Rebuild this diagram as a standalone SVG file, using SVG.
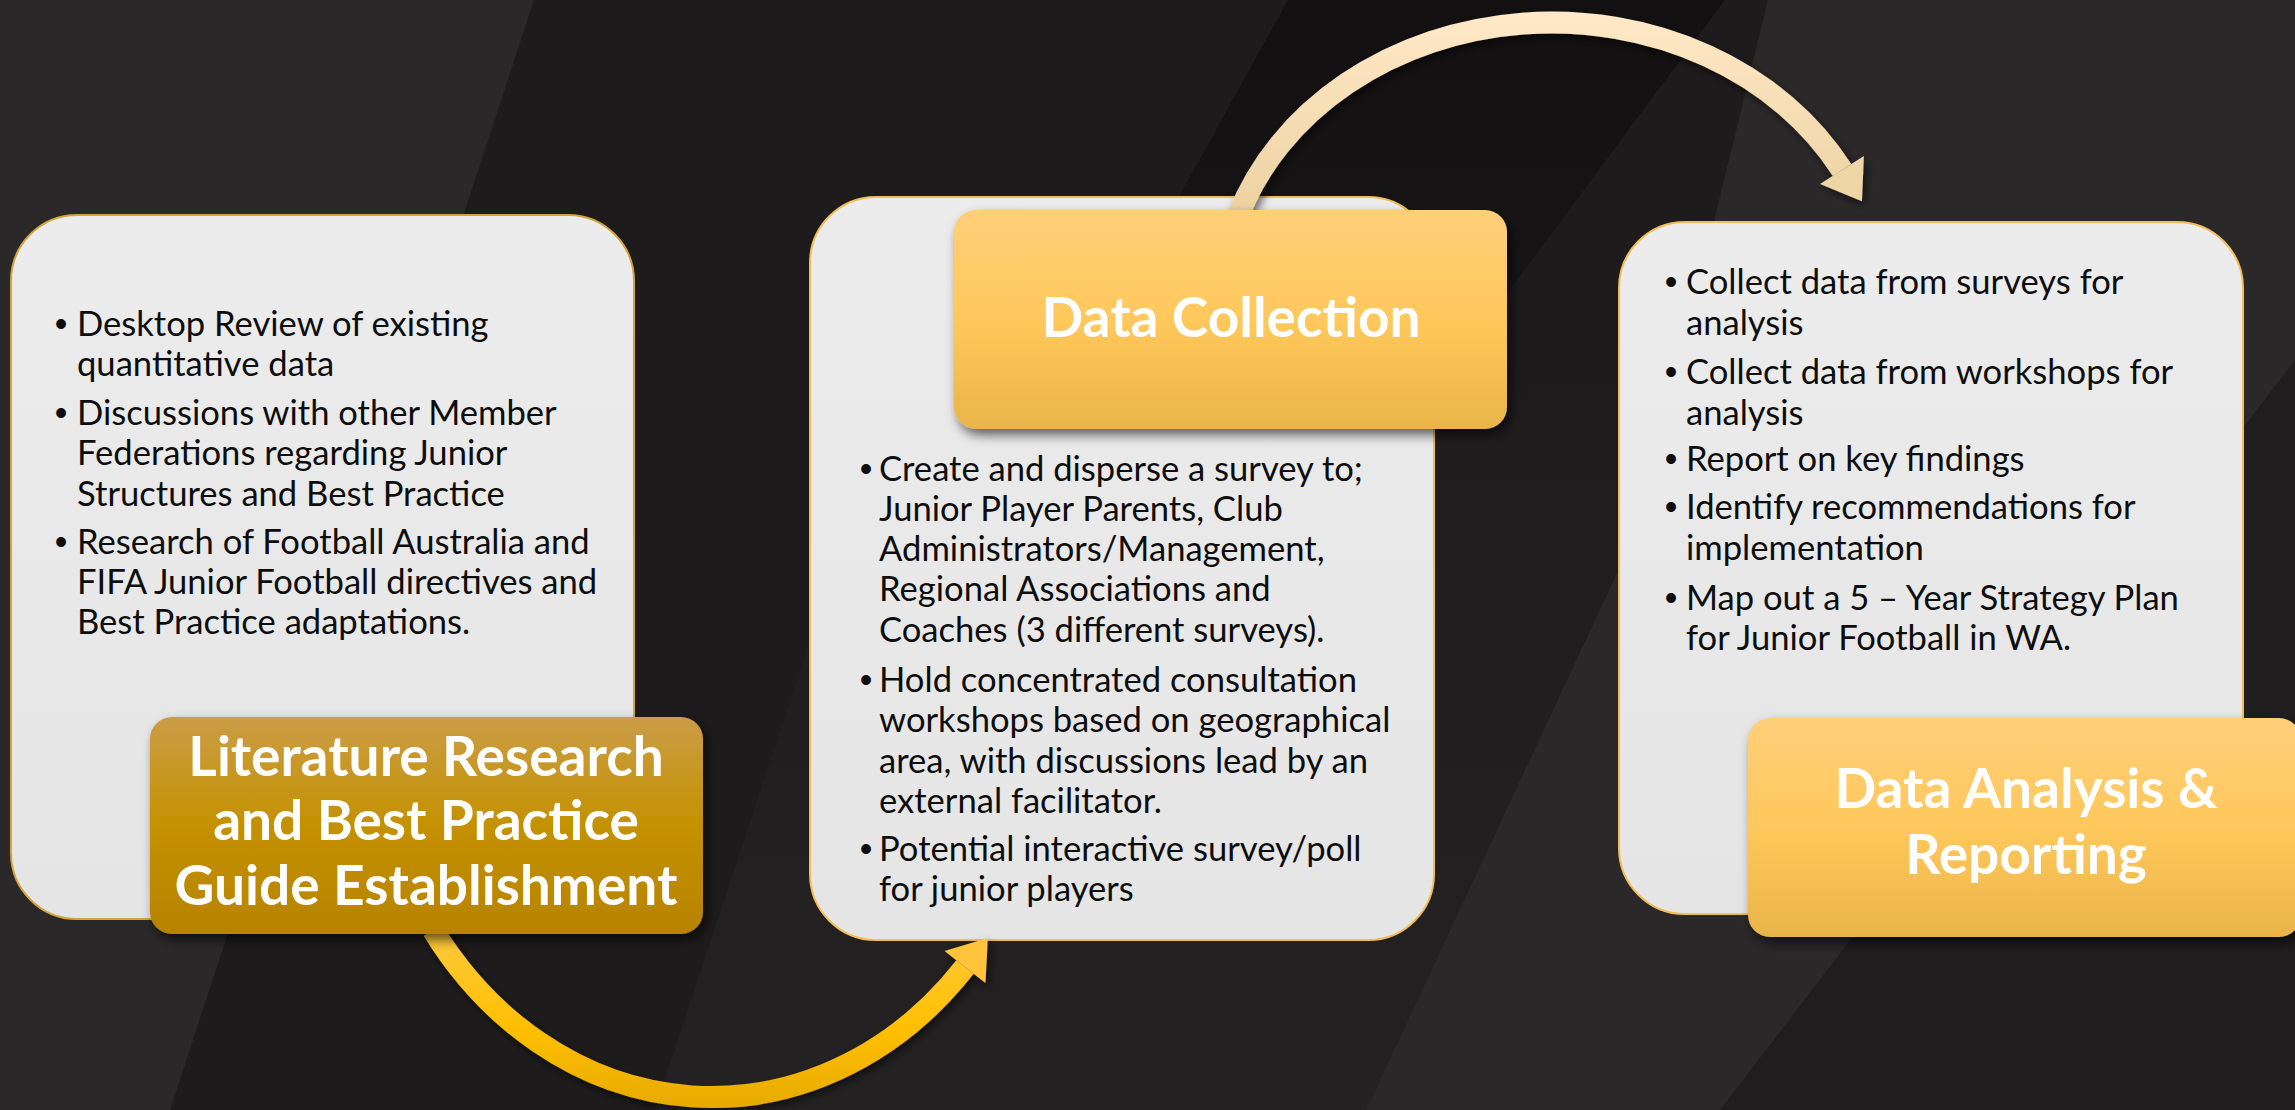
<svg xmlns="http://www.w3.org/2000/svg" width="2295" height="1110" viewBox="0 0 2295 1110">
  <defs>
    <style>
      .card { stroke-width: 2; }
      .body { font-family: Lato, "Open Sans", "Liberation Sans", sans-serif; font-size: 34.6px; fill: #0d0d0d; }
      .bullet { font-family: "Liberation Sans", sans-serif; font-size: 36px; fill: #0d0d0d; text-anchor: middle; }
      .title { font-family: Lato, "Open Sans", "Liberation Sans", sans-serif; font-weight: 700; font-size: 55px; fill: #ffffff; text-anchor: middle; }
    </style>
    <linearGradient id="cardFill" x1="0" y1="0" x2="0" y2="1">
      <stop offset="0" stop-color="#ececec"/>
      <stop offset="1" stop-color="#e5e5e5"/>
    </linearGradient>
    <linearGradient id="goldDark" x1="0" y1="0" x2="0" y2="1">
      <stop offset="0" stop-color="#cb9d47"/>
      <stop offset="0.5" stop-color="#c49100"/>
      <stop offset="1" stop-color="#b78300"/>
    </linearGradient>
    <linearGradient id="goldLight" x1="0" y1="0" x2="0" y2="1">
      <stop offset="0" stop-color="#ffcf79"/>
      <stop offset="0.5" stop-color="#ffc85c"/>
      <stop offset="1" stop-color="#e9b449"/>
    </linearGradient>
    <linearGradient id="arrowGold" gradientUnits="userSpaceOnUse" x1="0" y1="930" x2="0" y2="1110">
      <stop offset="0" stop-color="#ffc93f"/>
      <stop offset="0.55" stop-color="#ffbf00"/>
      <stop offset="1" stop-color="#e6aa00"/>
    </linearGradient>
    <linearGradient id="arrowCream" gradientUnits="userSpaceOnUse" x1="0" y1="10" x2="0" y2="215">
      <stop offset="0" stop-color="#ffe9c8"/>
      <stop offset="1" stop-color="#ecd2a1"/>
    </linearGradient>
    <linearGradient id="topFade" x1="0" y1="0" x2="0" y2="1">
      <stop offset="0" stop-color="#121011" stop-opacity="1"/>
      <stop offset="1" stop-color="#121011" stop-opacity="0"/>
    </linearGradient>
    <linearGradient id="lowBand" gradientUnits="userSpaceOnUse" x1="0" y1="300" x2="0" y2="1110">
      <stop offset="0" stop-color="#262324" stop-opacity="0"/>
      <stop offset="1" stop-color="#262324" stop-opacity="0.8"/>
    </linearGradient>
    <filter id="boxShadow" x="-10%" y="-10%" width="125%" height="130%">
      <feDropShadow dx="4" dy="6" stdDeviation="6" flood-color="#000" flood-opacity="0.6"/>
    </filter>
    <filter id="arrowShadow" x="-10%" y="-10%" width="125%" height="130%">
      <feDropShadow dx="3" dy="4" stdDeviation="4" flood-color="#000" flood-opacity="0.55"/>
    </filter>
    <marker id="headGold" markerUnits="userSpaceOnUse" viewBox="-2 -30 42 60" markerWidth="42" markerHeight="60" refX="0" refY="0" orient="auto" overflow="visible">
      <path d="M0,-26 L37,0 L0,26 Z" fill="#ffc43a"/>
    </marker>
    <marker id="headCream" markerUnits="userSpaceOnUse" viewBox="-2 -30 42 60" markerWidth="42" markerHeight="60" refX="0" refY="0" orient="auto" overflow="visible">
      <path d="M0,-26 L37,0 L0,26 Z" fill="#eed5a6"/>
    </marker>
  </defs>

  <!-- backdrop: charcoal with diagonal bands -->
  <g id="backdrop">
    <rect x="0" y="0" width="2295" height="1110" fill="#2b2829"/>
    <polygon points="534,0 1768,0 1640,524 1366,1110 170,1110" fill="#1d1b1c"/>
    <polygon points="1022,0 1768,0 1640,524 1366,1110 655,1110" fill="url(#lowBand)"/>
    <polygon points="1288,0 1725,0 1480,330 1250,700 900,700" fill="url(#topFade)"/>
    <polygon points="2295,360 2295,1110 1720,1110" fill="#1f1d1e"/>
  </g>

  <!-- detail cards -->
  <g id="card-research">
    <rect class="card" x="11" y="215" width="623" height="704" rx="66" fill="url(#cardFill)" stroke="#d3a43a"/>
    <text class="bullet" x="61" y="336">•</text>
    <text class="body" x="77" y="336">Desktop Review of existing</text>
    <text class="body" x="77" y="376">quantitative data</text>
    <text class="bullet" x="61" y="425">•</text>
    <text class="body" x="77" y="425">Discussions with other Member</text>
    <text class="body" x="77" y="465">Federations regarding Junior</text>
    <text class="body" x="77" y="506">Structures and Best Practice</text>
    <text class="bullet" x="61" y="554">•</text>
    <text class="body" x="77" y="554">Research of Football Australia and</text>
    <text class="body" x="77" y="594">FIFA Junior Football directives and</text>
    <text class="body" x="77" y="634">Best Practice adaptations.</text>
  </g>

  <g id="card-collection">
    <rect class="card" x="810" y="197" width="624" height="743" rx="66" fill="url(#cardFill)" stroke="#f2bd55"/>
    <text class="bullet" x="866" y="481">•</text>
    <text class="body" x="879" y="481">Create and disperse a survey to;</text>
    <text class="body" x="879" y="521">Junior Player Parents, Club</text>
    <text class="body" x="879" y="561">Administrators/Management,</text>
    <text class="body" x="879" y="601">Regional Associations and</text>
    <text class="body" x="879" y="642">Coaches (3 different surveys).</text>
    <text class="bullet" x="866" y="692">•</text>
    <text class="body" x="879" y="692">Hold concentrated consultation</text>
    <text class="body" x="879" y="732">workshops based on geographical</text>
    <text class="body" x="879" y="773">area, with discussions lead by an</text>
    <text class="body" x="879" y="813">external facilitator.</text>
    <text class="bullet" x="866" y="861">•</text>
    <text class="body" x="879" y="861">Potential interactive survey/poll</text>
    <text class="body" x="879" y="901">for junior players</text>
  </g>

  <g id="card-analysis">
    <rect class="card" x="1619" y="222" width="624" height="692" rx="66" fill="url(#cardFill)" stroke="#f2bd55"/>
    <text class="bullet" x="1671" y="294">•</text>
    <text class="body" x="1686" y="294">Collect data from surveys for</text>
    <text class="body" x="1686" y="335">analysis</text>
    <text class="bullet" x="1671" y="384">•</text>
    <text class="body" x="1686" y="384">Collect data from workshops for</text>
    <text class="body" x="1686" y="425">analysis</text>
    <text class="bullet" x="1671" y="471">•</text>
    <text class="body" x="1686" y="471">Report on key findings</text>
    <text class="bullet" x="1671" y="519">•</text>
    <text class="body" x="1686" y="519">Identify recommendations for</text>
    <text class="body" x="1686" y="560">implementation</text>
    <text class="bullet" x="1671" y="610">•</text>
    <text class="body" x="1686" y="610">Map out a 5 – Year Strategy Plan</text>
    <text class="body" x="1686" y="650">for Junior Football in WA.</text>
  </g>

  <!-- connectors between stages -->
  <g id="connectors">
    <path d="M 433 930 A 343 400 0 0 0 965 967" fill="none" stroke="url(#arrowGold)" stroke-width="22" marker-end="url(#headGold)" filter="url(#arrowShadow)"/>
    <path d="M 1238 216 A 331 284 0 0 1 1842 170" fill="none" stroke="url(#arrowCream)" stroke-width="22" marker-end="url(#headCream)" filter="url(#arrowShadow)"/>
  </g>

  <!-- stage titles -->
  <g id="title-research" filter="url(#boxShadow)">
    <rect x="150" y="717" width="553" height="217" rx="22" fill="url(#goldDark)"/>
    <text class="title" x="426" y="776">Literature Research</text>
    <text class="title" x="426" y="840">and Best Practice</text>
    <text class="title" x="426" y="905">Guide Establishment</text>
  </g>

  <g id="title-collection" filter="url(#boxShadow)">
    <rect x="954" y="210" width="553" height="219" rx="22" fill="url(#goldLight)"/>
    <text class="title" x="1231" y="337">Data Collection</text>
  </g>

  <g id="title-analysis" filter="url(#boxShadow)">
    <rect x="1748" y="718" width="553" height="219" rx="22" fill="url(#goldLight)"/>
    <text class="title" x="2026" y="808">Data Analysis &amp;</text>
    <text class="title" x="2026" y="874">Reporting</text>
  </g>
</svg>
